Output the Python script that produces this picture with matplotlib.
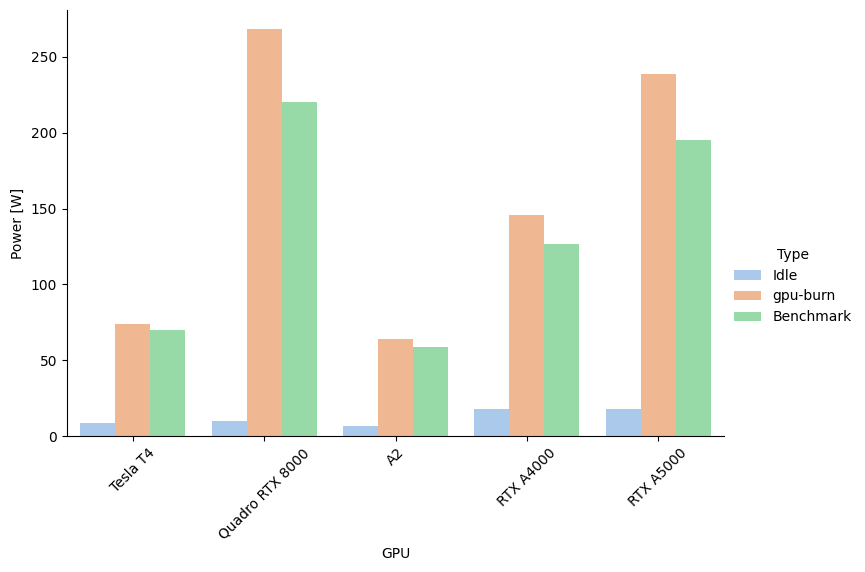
import pandas as pd
import seaborn as sns
from matplotlib import pyplot as plt

gpus = ["Tesla T4", "Quadro RTX 8000", "A2", "RTX A4000", "RTX A5000"]
types = ["Idle", "gpu-burn", "Benchmark"]
idle = [8.7, 9.9, 6.6, 17.9, 17.9]
burn = [74.2, 268.5, 64.2, 145.5, 238.8]
bench = [70.2, 220.3, 58.9, 126.8, 195.2]

rows = []
for vals, t in zip([idle, burn, bench], types):
    for g, v in zip(gpus, vals):
        rows.append({"GPU": g, "Type": t, "Power [W]": v})
df = pd.DataFrame(rows)

fig = plt.figure(figsize=(8.65, 5.72), dpi=100)
ax = fig.add_axes([67 / 865, 1 - 436 / 572, 657 / 865, 426 / 572])
sns.barplot(data=df, x="GPU", y="Power [W]", hue="Type", palette="pastel",
            order=gpus, hue_order=types, ax=ax, errorbar=None)
sns.despine(ax=ax)
ax.tick_params(axis="x", rotation=45)
ax.set_ylim(0, 281)
ax.get_legend().remove()
handles, labels = ax.get_legend_handles_labels()
fig.legend(handles, labels, title="Type", loc="center left",
           bbox_to_anchor=(721 / 865, 1 - 286 / 572), frameon=False)
fig.savefig("out.png", dpi=100)
